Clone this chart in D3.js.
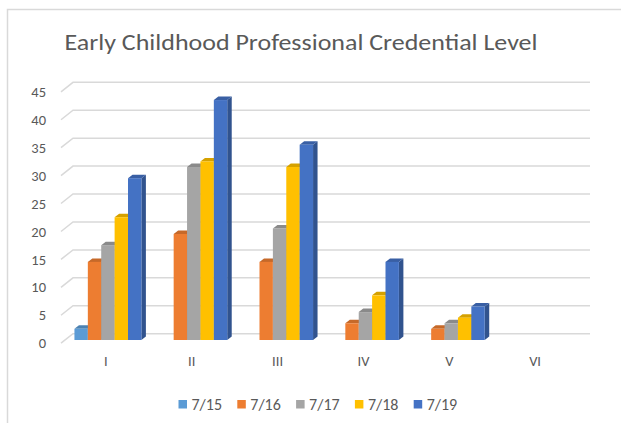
<!DOCTYPE html>
<html><head><meta charset="utf-8">
<script src="https://cdn.jsdelivr.net/npm/d3@7"></script>
<style>
html,body{margin:0;padding:0;background:#fff;}
svg text{font-family:Carlito,Lato,"Open Sans",sans-serif;fill:#595959;}
</style></head>
<body><svg id="c" width="621" height="423"></svg>
<script>
const title = "Early Childhood Professional Credential Level";
const categories = ["I","II","III","IV","V","VI"];
const seriesNames = ["7/15","7/16","7/17","7/18","7/19"];
const v7_15 = [2, 0, 0, 0, 0, 0];
const v7_16 = [14, 19, 14, 3, 2, 0];
const v7_17 = [17, 31, 20, 5, 3, 0];
const v7_18 = [22, 32, 31, 8, 4, 0];
const v7_19 = [29, 43, 35, 14, 6, 0];
const yTicks = [0,5,10,15,20,25,30,35,40,45];
const colors = ["#5B9BD5","#ED7D31","#A5A5A5","#FFC000","#4472C4"];

const seriesValues = [v7_15, v7_16, v7_17, v7_18, v7_19];
const svg = d3.select("#c");

// frame
svg.append("path").attr("d","M7.5,423 L7.5,9.5 L621,9.5").attr("fill","none").attr("stroke","#d9d9d9").attr("stroke-width",1.5);

// title
const t = svg.append("text").attr("x",301).attr("y",50).attr("text-anchor","middle")
  .style("font-size","23px").text(title);
const tw = t.node().getComputedTextLength();
if (Math.abs(tw-473) > 4) t.attr("textLength",473).attr("lengthAdjust","spacingAndGlyphs");

// scales
const yBack = d3.scaleLinear().domain([0,45]).range([333.7,82.3]);
const yFront = d3.scaleLinear().domain([0,45]).range([343.2,91.8]);
const yBar = d3.scaleLinear().domain([0,45]).range([340,88.9]);
const x0 = d3.scaleBand().domain(categories).range([65,580]).paddingInner(0.22).paddingOuter(0.11);
const x1 = d3.scaleBand().domain(seriesNames).range([0,x0.bandwidth()]);

// gridlines (3D wall)
const g = svg.append("g");
yTicks.forEach(v=>{
  g.append("path")
   .attr("d",`M61,${yFront(v)} L73,${yBack(v)} L590,${yBack(v)}`)
   .attr("fill","none").attr("stroke","#d9d9d9").attr("stroke-width",1.5);
});

// y axis labels
const ya = svg.append("g").attr("transform","translate(52,0)")
  .call(d3.axisLeft(yFront).tickValues(yTicks).tickSize(0).tickPadding(6));
ya.select(".domain").remove();
ya.selectAll("text").style("font-size","14.5px").attr("fill","#595959");

// x axis labels
const xa = svg.append("g").attr("transform","translate(-2,353)")
  .call(d3.axisBottom(x0).tickSize(0).tickPadding(3));
xa.select(".domain").remove();
xa.selectAll("text").style("font-size","14.5px").attr("fill","#595959");

// 3D bars
const dx = 4.5, dy = 3.5;
const bars = svg.append("g");
categories.forEach((c,ci)=>{
  seriesNames.forEach((s,si)=>{
    const v = seriesValues[si][ci];
    if (!v) return;
    const xl = x0(c)+x1(s), w = x1.bandwidth();
    const yt = yBar(v), yb = yBar(0);
    const col = d3.color(colors[si]);
    // side
    bars.append("path").attr("d",`M${xl+w},${yb} L${xl+w+dx},${yb-dy} L${xl+w+dx},${yt-dy} L${xl+w},${yt} Z`)
      .attr("fill",col.darker(0.9));
    // top
    bars.append("path").attr("d",`M${xl},${yt} L${xl+dx},${yt-dy} L${xl+w+dx},${yt-dy} L${xl+w},${yt} Z`)
      .attr("fill",col.darker(0.5));
    // front
    bars.append("rect").attr("x",xl).attr("y",yt).attr("width",w).attr("height",yb-yt)
      .attr("fill",col);
  });
});

// legend
const lg = svg.append("g");
seriesNames.forEach((s,i)=>{
  const lx = 178.5 + i*58.8;
  lg.append("rect").attr("x",lx).attr("y",400).attr("width",8.5).attr("height",8.5).attr("fill",colors[i]);
  lg.append("text").attr("x",lx+13).attr("y",409.5).style("font-size","16px").text(s);
});
</script></body></html>
